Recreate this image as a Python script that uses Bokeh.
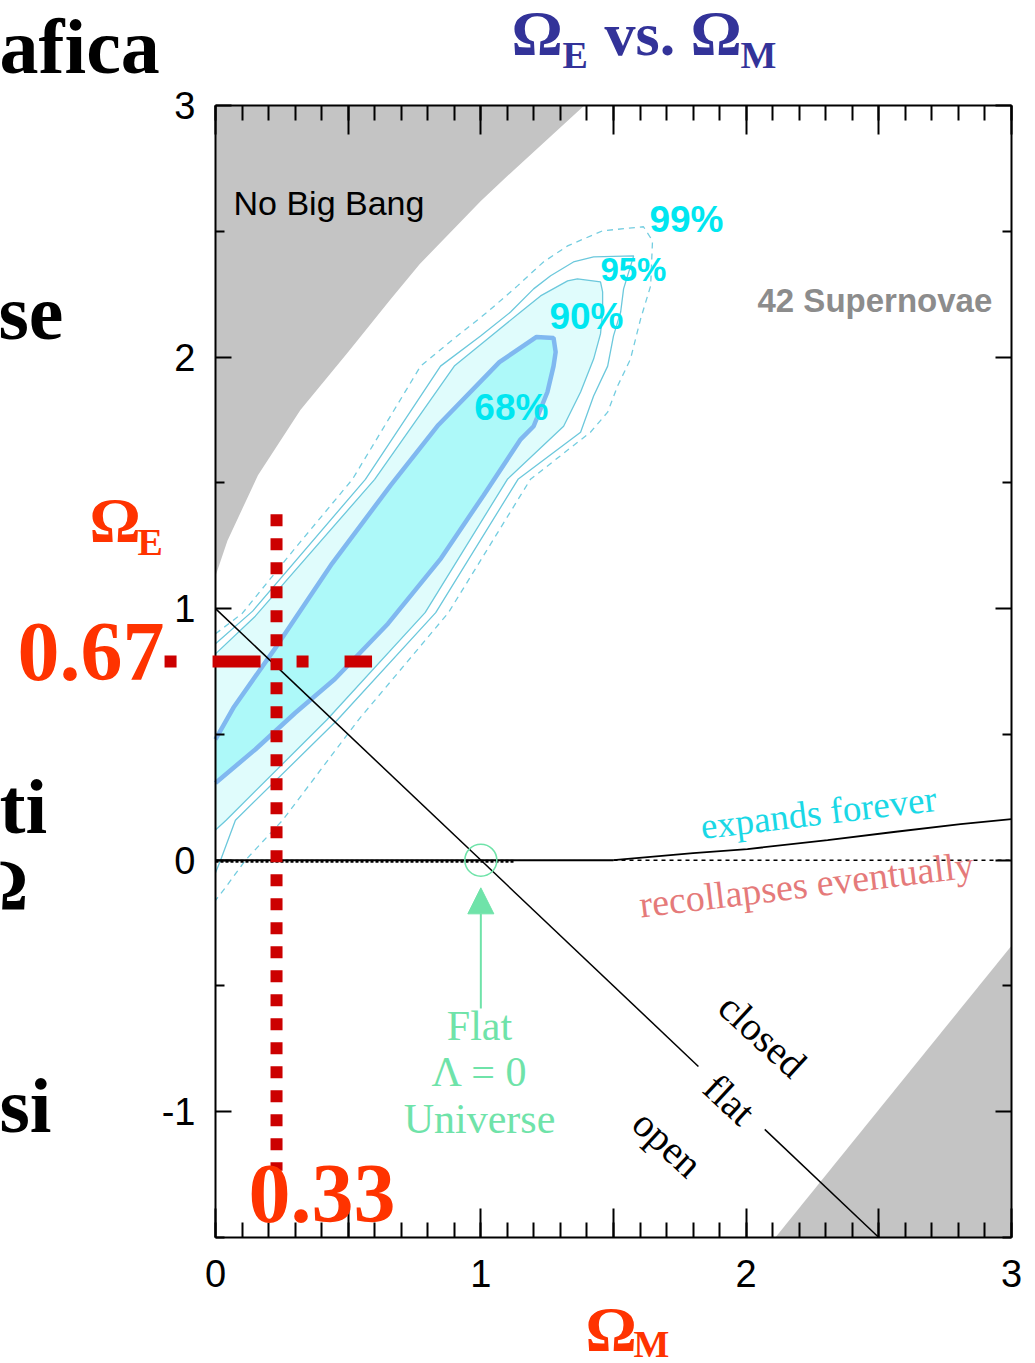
from bokeh.plotting import figure
from bokeh.models import (Range1d, LinearAxis, FixedTicker, Label, Arrow, NormalHead,
                          CustomJSTickFormatter)
from bokeh.embed import file_html
from bokeh.resources import INLINE

# ---------------- data ----------------
# "No Big Bang" region (top-left) boundary
nbb_x = [0.0, 0.0, 0.045, 0.16, 0.32, 0.50, 0.66, 0.77, 1.0, 1.09, 1.39]
nbb_y = [3.0, 1.13, 1.27, 1.53, 1.79, 2.02, 2.23, 2.37, 2.62, 2.71, 3.0]
# gray region bottom-right
br_x = [2.11, 3.0, 3.0]
br_y = [-1.5, -1.5, -0.34]

# confidence contours (Omega_M, Omega_E)
c68_x = [0.0, 0.07, 0.23, 0.44, 0.66, 0.84, 1.07, 1.21, 1.274, 1.282, 1.274, 1.251,
         1.199, 1.15, 1.01, 0.85, 0.65, 0.45, 0.30, 0.15, 0.0]
c68_y = [0.48, 0.61, 0.85, 1.18, 1.49, 1.73, 1.98, 2.08, 2.076, 2.02, 1.964, 1.861,
         1.725, 1.673, 1.45, 1.20, 0.94, 0.72, 0.585, 0.44, 0.307]
c90_x = [0.0, 0.15, 0.60, 0.90, 1.025, 1.15, 1.225, 1.327, 1.364, 1.451, 1.459, 1.459,
         1.451, 1.425, 1.376, 1.312, 1.10, 0.79, 0.42, 0.04, 0.0]
c90_y = [0.82, 0.97, 1.514, 1.964, 2.072, 2.179, 2.243, 2.303, 2.311, 2.299, 2.259, 2.179,
         2.092, 1.992, 1.861, 1.725, 1.514, 0.984, 0.558, 0.159, 0.12]
c95_x = [0.0, 0.14, 0.565, 0.848, 0.999, 1.112, 1.199, 1.263, 1.349, 1.425, 1.576, 1.538,
         1.527, 1.50, 1.478, 1.425, 1.376, 1.14, 0.83, 0.46, 0.075, 0.019, 0.0]
c95_y = [0.86, 0.99, 1.514, 1.964, 2.084, 2.179, 2.271, 2.323, 2.378, 2.398, 2.402, 2.271,
         2.179, 2.084, 1.964, 1.845, 1.701, 1.514, 0.984, 0.558, 0.159, 0.0, -0.05]
c99_x = [0.0, 0.10, 0.30, 0.516, 0.773, 0.897, 1.025, 1.138, 1.236, 1.327, 1.459, 1.613,
         1.647, 1.64, 1.602, 1.564, 1.515, 1.478, 1.413, 1.187, 0.878, 0.539, 0.253, 0.113,
         0.038, 0.0]
c99_y = [0.90, 0.98, 1.24, 1.514, 1.964, 2.072, 2.179, 2.283, 2.378, 2.442, 2.502, 2.518,
         2.462, 2.283, 2.151, 1.992, 1.884, 1.781, 1.701, 1.514, 0.984, 0.558, 0.159, 0.0,
         -0.108, -0.16]
conf_labels = ["68%", "90%", "95%", "99%"]
conf_lab_x = [1.115, 1.398, 1.575, 1.775]
conf_lab_y = [1.80, 2.16, 2.35, 2.545]

# flat universe line (Omega_M + Omega_E = 1), broken around its label
flat_xs = [[0.0, 1.82], [2.07, 2.5]]
flat_ys = [[1.0, -0.82], [-1.07, -1.5]]

# expands forever / recollapses boundary
zero_solid_x = [0.0, 1.5]
zero_dense_x = [0.0, 1.13]
zero_dot_x = [1.5, 3.0]
zero_y = [0.0, 0.0]
bnd_x = [1.5, 1.80, 2.005, 2.307, 2.556, 2.808, 3.0]
bnd_y = [0.0, 0.028, 0.044, 0.080, 0.112, 0.143, 0.163]

# flat Lambda = 0 universe
flat_pt_x = [1.0]
flat_pt_y = [0.0]
arrow_tail_y = -0.59
arrow_tip_y = -0.11

# highlighted point (red crosshair) and its labels
cross_x = 0.23
cross_y = 0.79
cross_h_from, cross_h_to = -0.192, 0.59
cross_v_from, cross_v_to = 1.375, -1.235
cross_x_label = "0.33"
cross_y_label = "0.67"

x_major = [0, 0.5, 1, 1.5, 2, 2.5, 3]
x_minor = [round(i * 0.1, 1) for i in range(0, 31)]
y_major = [-1, 0, 1, 2, 3]
y_minor = [-1.5, -0.5, 0.5, 1.5, 2.5]

# ---------------- geometry (page pixels of the data box) ----------------
W, H = 1035, 1363
FR_L, FR_R, FR_T, FR_B = 215, 1011, 105, 1237
SX = (FR_R - FR_L) / 3.0
SY = (FR_B - FR_T) / 4.5
x_lo, x_hi = -FR_L / SX, 3 + (W - FR_R) / SX
y_hi, y_lo = 3 + FR_T / SY, -1.5 - (H - FR_B) / SY


def dx(px):
    return (px - FR_L) / SX


def dy(py):
    return 3 - (py - FR_T) / SY


p = figure(width=W, height=H, x_range=Range1d(x_lo, x_hi), y_range=Range1d(y_lo, y_hi),
           output_backend="svg", toolbar_location=None,
           x_axis_location=None, y_axis_location=None, min_border=0)
p.xgrid.visible = False
p.ygrid.visible = False
p.outline_line_color = None
p.background_fill_color = "white"
p.border_fill_color = "white"

# axes (drawn at the edges of the data box)
xt = FixedTicker(ticks=x_major, minor_ticks=x_minor)
yt = FixedTicker(ticks=y_major, minor_ticks=y_minor)
blank = CustomJSTickFormatter(code="return ''")

ax_bottom = LinearAxis(fixed_location=-1.5, bounds=(0, 3), ticker=xt,
                       major_label_overrides={0.5: "", 1.5: "", 2.5: ""})
ax_top = LinearAxis(fixed_location=3, bounds=(0, 3), ticker=xt, formatter=blank)
ax_left = LinearAxis(fixed_location=0, bounds=(-1.5, 3), ticker=yt,
                     major_label_overrides={-1: "-1"})
ax_right = LinearAxis(fixed_location=3, bounds=(-1.5, 3), ticker=yt, formatter=blank)

for ax in [ax_bottom, ax_top]:
    ax.major_tick_in = 29
    ax.minor_tick_in = 15
for ax in [ax_left, ax_right]:
    ax.major_tick_in = 16
    ax.minor_tick_in = 9
for ax in [ax_bottom, ax_top, ax_left, ax_right]:
    ax.major_tick_out = 0
    ax.minor_tick_out = 0
    ax.axis_line_width = 2
    ax.axis_line_color = "black"
    ax.major_tick_line_width = 2
    ax.minor_tick_line_width = 2
    ax.major_tick_line_color = "black"
    ax.minor_tick_line_color = "black"
    ax.major_label_text_font = "Liberation Sans"
    ax.major_label_text_font_size = "38px"
    ax.major_label_text_color = "black"
ax_bottom.major_label_standoff = 22
ax_left.major_label_standoff = 20

# gray regions
p.patch(nbb_x, nbb_y, fill_color="#c4c4c4", line_color=None)
p.patch(br_x, br_y, fill_color="#c4c4c4", line_color=None)

# contours
p.patch(c90_x, c90_y, fill_color="#e0fcfc", line_color=None)
p.patch(c68_x, c68_y, fill_color="#adf9f9", line_color=None)
p.line(c99_x, c99_y, line_color="#74cde0", line_width=1.3, line_dash="6 5")
p.line(c95_x, c95_y, line_color="#6cc8dc", line_width=1.3)
p.line(c90_x, c90_y, line_color="#6cc8dc", line_width=1.3)
p.line(c68_x, c68_y, line_color="#80b8f0", line_width=4.5)

# flat line
p.multi_line(flat_xs, flat_ys, line_color="black", line_width=1.5)

# zero / boundary lines
p.line(zero_solid_x, zero_y, line_color="black", line_width=2)
p.line(zero_dense_x, [v - 0.004 for v in zero_y], line_color="black", line_width=3, line_dash="3 2")
p.line(zero_dot_x, zero_y, line_color="black", line_width=1.5, line_dash="4 4")
p.line(bnd_x, bnd_y, line_color="black", line_width=1.8)

# flat Lambda=0 marker and arrow
GREEN = "#6fe3a9"
p.scatter(flat_pt_x, flat_pt_y, marker="circle", size=32, fill_color=None,
          line_color=GREEN, line_width=1.5)
p.add_layout(Arrow(x_start=flat_pt_x[0], y_start=arrow_tail_y, x_end=flat_pt_x[0], y_end=arrow_tip_y,
                   line_color=GREEN, line_width=2,
                   end=NormalHead(size=26, fill_color=GREEN, line_color=GREEN)))

for ax, place in [(ax_bottom, "below"), (ax_top, "above"), (ax_left, "left"), (ax_right, "right")]:
    p.add_layout(ax, place)


def lab(text, px, py, size, color="black", font="Liberation Serif", style="normal",
        align="left", baseline="alphabetic", angle=0.0):
    if baseline == "alphabetic":
        py = py - (4.5 + 0.28 * size)  # compensate the renderer's baseline offset
    p.add_layout(Label(x=dx(px), y=dy(py), text=text, text_font=font,
                       text_font_size=f"{size}px", text_color=color, text_font_style=style,
                       text_align=align, text_baseline=baseline, angle=angle))


# texts inside the data box
lab("No Big Bang", 233, 217, 34, font="Liberation Sans")
lab("42 Supernovae", 757, 314, 33, color="#8c8c8c", font="Liberation Sans", style="bold")
CY = "#00e6f0"
for t, x, y in zip(conf_labels, conf_lab_x, conf_lab_y):
    p.add_layout(Label(x=x, y=y, text=t, text_font="Liberation Sans", text_font_style="bold",
                       text_font_size="37px" if t != "95%" else "33px", text_color=CY,
                       text_align="center", text_baseline="middle"))
lab("expands forever", 818, 812, 37, color="#1ad8e6", align="center", baseline="middle", angle=0.12)
lab("recollapses eventually", 806, 884, 38, color="#e57a7a", align="center", baseline="middle", angle=0.12)
lab("closed", 762, 1035, 40, align="center", baseline="middle", angle=-0.745)
lab("flat", 729, 1099, 40, align="center", baseline="middle", angle=-0.745)
lab("open", 667, 1143, 40, align="center", baseline="middle", angle=-0.745)
lab("Flat", 479, 1042, 42, color=GREEN, align="center")
lab("Λ = 0", 479, 1088, 42, color=GREEN, align="center")
lab("Universe", 479, 1135, 42, color=GREEN, align="center")

# red crosshair
RED = "#cc0000"
p.add_layout(Arrow(x_start=cross_h_from, y_start=cross_y, x_end=cross_h_to, y_end=cross_y,
                   start=None, end=None, line_color=RED, line_width=12, line_dash="12 36 48 36",
                   line_cap="butt"))
p.add_layout(Arrow(x_start=cross_x, y_start=cross_v_from, x_end=cross_x, y_end=cross_v_to,
                   start=None, end=None, line_color=RED, line_width=12, line_dash="12 12",
                   line_cap="butt"))

# texts outside the data box
ORANGE = "#ff3300"
BLUE = "#333399"
lab(cross_y_label, 17, 680, 84, color=ORANGE, style="bold")
lab(cross_x_label, 248, 1222, 84, color=ORANGE, style="bold")
lab("Ω", 89, 542, 64, color=ORANGE, style="bold")
lab("E", 137, 557, 38, color=ORANGE, style="bold")
lab("Ω", 585, 1351, 64, color=ORANGE, style="bold")
lab("M", 633, 1359, 38, color=ORANGE, style="bold")

lab("Ω", 511, 55, 64, color=BLUE, style="bold")
lab("E", 562, 70, 38, color=BLUE, style="bold")
lab("vs.", 604, 55, 62, color=BLUE, style="bold")
lab("Ω", 690, 55, 64, color=BLUE, style="bold")
lab("M", 740, 70, 38, color=BLUE, style="bold")

lab("afica", -1, 72, 78, style="bold")
lab("se", -2, 338, 78, style="bold")
lab("ti", -1, 832, 78, style="bold")
lab("Ω", -30, 909, 72, style="bold")
lab("si", -1, 1131, 78, style="bold")

open("out.html", "w").write(file_html(p, INLINE))
